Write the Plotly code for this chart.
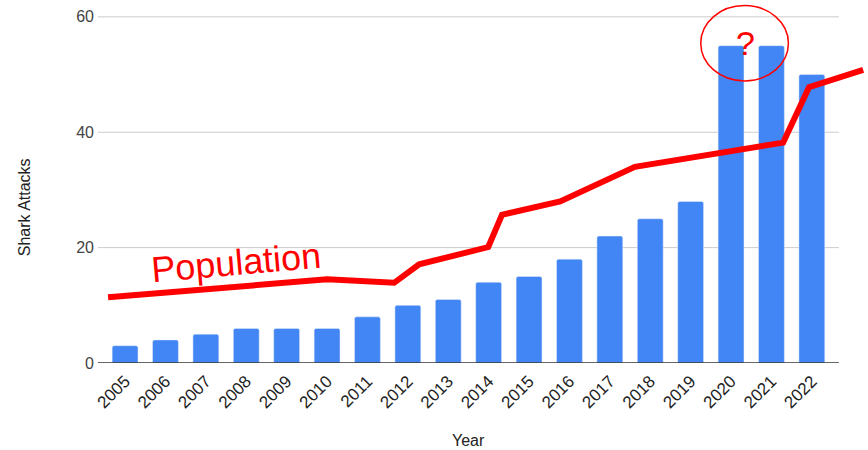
import plotly.graph_objects as go

# Shark attacks per year
years = list(range(2005, 2023))
attacks = [3, 4, 5, 6, 6, 6, 8, 10, 11, 14, 15, 18, 22, 25, 28, 55, 55, 50]

# Hand-drawn population trend (fractional year positions, same y scale)
pop_x = [2004.58, 2010.0, 2011.66, 2012.28, 2013.99, 2014.33, 2015.77,
         2017.62, 2021.29, 2021.93, 2023.27]
pop_y = [11.4, 14.5, 13.9, 17.1, 20.1, 25.7, 28.0, 34.0, 38.2, 47.8, 50.8]

y_ticks = [0, 20, 40, 60]

FONT = "Liberation Sans, Arial, sans-serif"
x_lo, x_hi = years[0] - 0.67, years[-1] + 0.67

fig = go.Figure()
fig.add_trace(go.Bar(x=years, y=attacks, marker_color="#4285F4",
                     width=0.64, showlegend=False))
fig.add_trace(go.Scatter(x=pop_x, y=pop_y, mode="lines",
                         line=dict(color="#FF0000", width=6),
                         showlegend=False))

shapes = []
for v in y_ticks[1:]:
    shapes.append(dict(type="line", xref="x", yref="y", x0=x_lo, x1=x_hi,
                       y0=v, y1=v, line=dict(color="#CCCCCC", width=1),
                       layer="below"))
shapes.append(dict(type="line", xref="x", yref="y", x0=x_lo, x1=x_hi,
                   y0=0, y1=0, line=dict(color="#333333", width=1.5),
                   layer="above"))
# circle around the 2020/2021 spike
shapes.append(dict(type="circle", xref="x", yref="y", x0=2019.25, x1=2021.42,
                   y0=48.9, y1=61.96, line=dict(color="#FF0000", width=1.5),
                   layer="above"))

annotations = [
    dict(text="Population", x=2007.74, y=17.5, xref="x", yref="y",
         showarrow=False, textangle=-5,
         font=dict(family=FONT, size=36, color="#FF0000")),
    dict(text="?", x=2020.35, y=55.5, xref="x", yref="y", showarrow=False,
         font=dict(family=FONT, size=34, color="#FF0000")),
    dict(text="Shark Attacks", x=0, xref="paper", xshift=-74,
         xanchor="center", yanchor="middle", y=27.0,
         yref="y", showarrow=False, textangle=-90,
         font=dict(family=FONT, size=16, color="#222222")),
    dict(text="Year", x=2013.49, xref="x", y=0, yref="paper", yshift=-77,
         xanchor="center", yanchor="middle",
         showarrow=False, font=dict(family=FONT, size=16, color="#222222")),
]

fig.update_layout(
    width=868, height=450,
    margin=dict(l=98, r=0, t=3, b=87),
    plot_bgcolor="white", paper_bgcolor="white",
    font=dict(family=FONT, size=16, color="#222222"),
    barcornerradius=2,
    shapes=shapes, annotations=annotations,
    xaxis=dict(range=[x_lo, years[0] + 18.39], tickvals=years,
               ticktext=[str(y) for y in years], tickangle=-45,
               showgrid=False, zeroline=False, showline=False,
               ticklabelstandoff=4,
               tickfont=dict(size=17, color="#222222")),
    yaxis=dict(range=[0, 62.4], tickvals=y_ticks, showgrid=False,
               zeroline=False, showline=False, ticklabelstandoff=3,
               tickfont=dict(size=16, color="#444444")),
)

fig.write_html("out.html")
